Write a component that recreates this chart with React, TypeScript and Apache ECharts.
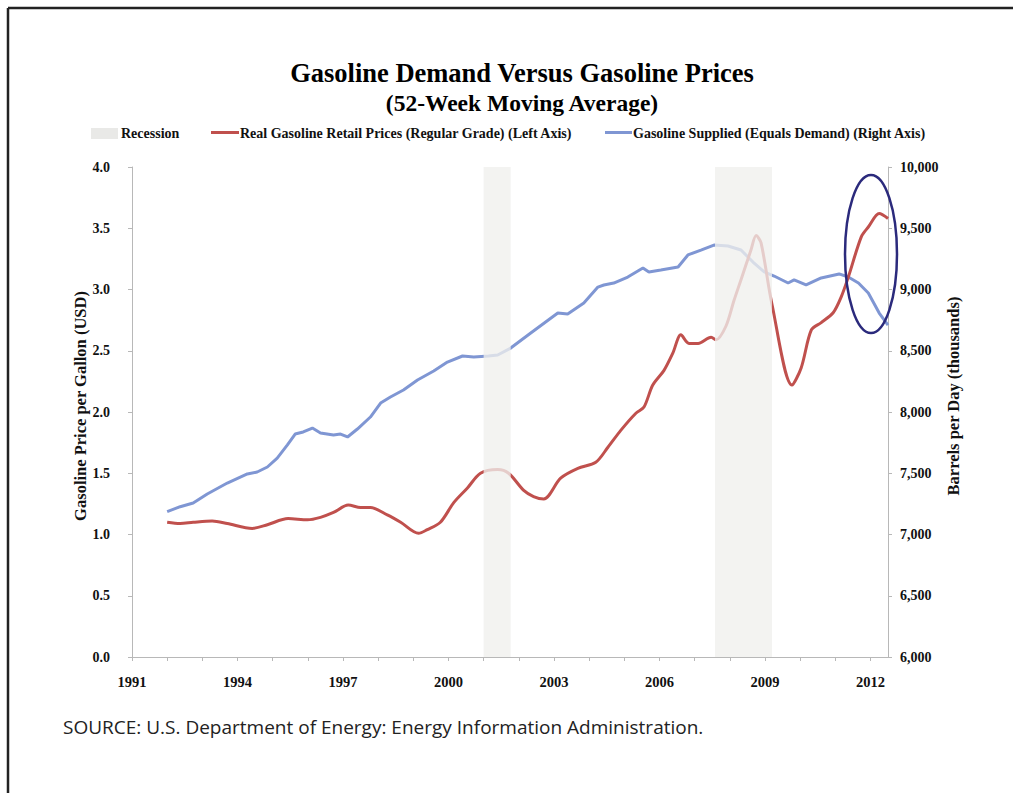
import React, { useEffect, useRef } from "react";
import * as echarts from "echarts";

const priceYears = [1992.0, 1992.37, 1992.74, 1993.28, 1993.71, 1994.42, 1994.85, 1995.44, 1995.99, 1996.36, 1996.73, 1997.15, 1997.5, 1997.78, 1998.26, 1998.64, 1999.15, 1999.4, 1999.77, 2000.15, 2000.54, 2000.91, 2001.4, 2001.71, 2002.14, 2002.42, 2002.71, 2003.19, 2003.68, 2004.19, 2004.53, 2004.9, 2005.33, 2005.56, 2005.81, 2006.13, 2006.38, 2006.61, 2006.84, 2007.1, 2007.47, 2007.61, 2007.89, 2008.12, 2008.32, 2008.6, 2008.75, 2008.89, 2009.2, 2009.77, 2010.03, 2010.32, 2010.6, 2010.94, 2011.17, 2011.37, 2011.74, 2011.94, 2012.25, 2012.5];
const priceValues = [1.10, 1.09, 1.10, 1.11, 1.09, 1.05, 1.08, 1.13, 1.12, 1.14, 1.18, 1.24, 1.22, 1.22, 1.16, 1.10, 1.01, 1.04, 1.10, 1.26, 1.38, 1.50, 1.53, 1.50, 1.36, 1.31, 1.29, 1.46, 1.54, 1.59, 1.71, 1.85, 1.99, 2.04, 2.22, 2.34, 2.48, 2.63, 2.56, 2.56, 2.61, 2.59, 2.70, 2.91, 3.08, 3.32, 3.44, 3.38, 2.88, 2.22, 2.36, 2.67, 2.73, 2.81, 2.94, 3.10, 3.43, 3.51, 3.62, 3.58];

const supplyYears = [1992.0, 1992.37, 1992.74, 1993.14, 1993.71, 1994.28, 1994.56, 1994.85, 1995.13, 1995.42, 1995.64, 1995.87, 1996.13, 1996.36, 1996.73, 1996.93, 1997.13, 1997.41, 1997.78, 1998.07, 1998.35, 1998.72, 1999.12, 1999.58, 1999.97, 2000.4, 2000.72, 2001.14, 2001.4, 2001.77, 2002.34, 2003.11, 2003.39, 2003.85, 2004.25, 2004.42, 2004.7, 2005.1, 2005.53, 2005.7, 2006.04, 2006.53, 2006.81, 2007.18, 2007.55, 2007.95, 2008.32, 2008.66, 2008.98, 2009.26, 2009.66, 2009.83, 2010.17, 2010.6, 2011.11, 2011.37, 2011.66, 2011.94, 2012.25, 2012.5];
const supplyValues = [7186, 7227, 7257, 7331, 7420, 7494, 7510, 7551, 7624, 7731, 7820, 7837, 7869, 7829, 7812, 7820, 7796, 7861, 7959, 8073, 8122, 8180, 8261, 8335, 8408, 8457, 8449, 8457, 8465, 8522, 8645, 8808, 8800, 8890, 9020, 9037, 9053, 9102, 9176, 9143, 9159, 9184, 9282, 9322, 9363, 9355, 9322, 9224, 9143, 9110, 9053, 9078, 9037, 9094, 9127, 9102, 9053, 8971, 8808, 8710];

const recessionStart = [2001.0, 2007.58];
const recessionEnd = [2001.77, 2009.2];

const titleText = "Gasoline Demand Versus Gasoline Prices";
const subtitleText = "(52-Week Moving Average)";
const legendLabels = [
  "Recession",
  "Real Gasoline Retail Prices (Regular Grade) (Left Axis)",
  "Gasoline Supplied (Equals Demand) (Right Axis)",
];
const leftAxisName = "Gasoline Price per Gallon (USD)";
const rightAxisName = "Barrels per Day (thousands)";
const sourceText = "SOURCE: U.S. Department of Energy: Energy Information Administration.";

const RED = "#c0504d";
const BLUE = "#7f96d3";
const REC = "rgba(240,240,237,0.78)";
const SERIF = "'Liberation Serif', 'Times New Roman', serif";

export default function App() {
  const ref = useRef<HTMLDivElement>(null);
  useEffect(() => {
    if (!ref.current) return;
    document.documentElement.style.overflow = "hidden";
    document.body.style.margin = "0";
    const chart = echarts.init(ref.current, null, { renderer: "svg" });
    const axisLine = { show: true, lineStyle: { color: "#b8b8b8", width: 1 } };
    const labelStyle = { fontFamily: SERIF, fontWeight: "bold" as const, fontSize: 14, color: "#111" };
    chart.setOption({
      animation: false,
      backgroundColor: "#fff",
      grid: { left: 132, right: 125, top: 167, bottom: 136, containLabel: false },
      xAxis: {
        type: "value",
        min: 1991,
        max: 2012.5,
        interval: 1,
        axisLine,
        axisTick: { show: true, length: 4, lineStyle: { color: "#b8b8b8" } },
        splitLine: { show: false },
        axisLabel: {
          ...labelStyle,
          fontSize: 14.5,
          margin: 17,
          showMinLabel: true,
          showMaxLabel: false,
          formatter: (v: number) => (Number.isInteger(v) && (v - 1991) % 3 === 0 ? String(v) : ""),
        },
      },
      yAxis: [
        {
          type: "value",
          min: 0,
          max: 4,
          interval: 0.5,
          position: "left",
          axisLine,
          axisTick: { show: true, length: 4, lineStyle: { color: "#b8b8b8" } },
          splitLine: { show: false },
          axisLabel: { ...labelStyle, margin: 22, formatter: (v: number) => v.toFixed(1) },
        },
        {
          type: "value",
          min: 6000,
          max: 10000,
          interval: 500,
          position: "right",
          axisLine,
          axisTick: { show: true, length: 4, lineStyle: { color: "#b8b8b8" } },
          splitLine: { show: false },
          axisLabel: { ...labelStyle, margin: 12, formatter: (v: number) => v.toLocaleString("en-US") },
        },
      ],
      series: [
        {
          type: "line",
          name: legendLabels[2],
          yAxisIndex: 1,
          data: supplyYears.map((y, i) => [y, supplyValues[i]]),
          symbol: "none",
          lineStyle: { color: BLUE, width: 3 },
          z: 2,
        },
        {
          type: "line",
          name: legendLabels[1],
          yAxisIndex: 0,
          data: priceYears.map((y, i) => [y, priceValues[i]]),
          symbol: "none",
          smooth: 0.3,
          lineStyle: { color: RED, width: 3 },
          z: 3,
        },
        {
          type: "custom",
          name: legendLabels[0],
          yAxisIndex: 0,
          z: 5,
          encode: { x: [0, 1] },
          data: recessionStart.map((s, i) => [s, recessionEnd[i]]),
          renderItem: (params: any, api: any) => {
            const p0 = api.coord([api.value(0), 0]);
            const p1 = api.coord([api.value(1), 0]);
            const cs = params.coordSys;
            return {
              type: "rect",
              shape: { x: p0[0], y: cs.y, width: p1[0] - p0[0], height: cs.height },
              style: { fill: REC },
            };
          },
        },
      ],
      graphic: [
        { type: "line", shape: { x1: 8, y1: 8, x2: 1013, y2: 8 }, style: { stroke: "#222", lineWidth: 2.5 }, z: 100 },
        { type: "line", shape: { x1: 8, y1: 8, x2: 8, y2: 793 }, style: { stroke: "#222", lineWidth: 2.5 }, z: 100 },
        {
          type: "text", x: 522, y: 73,
          style: { text: titleText, font: `bold 26.5px ${SERIF}`, fill: "#000", align: "center", verticalAlign: "middle" },
        },
        {
          type: "text", x: 522, y: 103,
          style: { text: subtitleText, font: `bold 23.5px ${SERIF}`, fill: "#000", align: "center", verticalAlign: "middle" },
        },
        { type: "rect", shape: { x: 91, y: 128, width: 27, height: 11 }, style: { fill: "#e9e9e7" } },
        {
          type: "text", x: 121, y: 133,
          style: { text: legendLabels[0], font: `bold 14px ${SERIF}`, fill: "#111", verticalAlign: "middle" },
        },
        { type: "line", shape: { x1: 211, y1: 132.5, x2: 239, y2: 132.5 }, style: { stroke: RED, lineWidth: 3 } },
        {
          type: "text", x: 240, y: 133,
          style: { text: legendLabels[1], font: `bold 14px ${SERIF}`, fill: "#111", verticalAlign: "middle" },
        },
        { type: "line", shape: { x1: 605, y1: 132.5, x2: 632, y2: 132.5 }, style: { stroke: BLUE, lineWidth: 3 } },
        {
          type: "text", x: 633, y: 133,
          style: { text: legendLabels[2], font: `bold 14px ${SERIF}`, fill: "#111", verticalAlign: "middle" },
        },
        {
          type: "text", x: 80, y: 406, rotation: Math.PI / 2,
          style: { text: leftAxisName, font: `bold 16.5px ${SERIF}`, fill: "#111", align: "center", verticalAlign: "middle" },
        },
        {
          type: "text", x: 953, y: 396, rotation: Math.PI / 2,
          style: { text: rightAxisName, font: `bold 16.5px ${SERIF}`, fill: "#111", align: "center", verticalAlign: "middle" },
        },
        {
          type: "ellipse", shape: { cx: 871, cy: 254, rx: 26, ry: 79 },
          style: { fill: "none", stroke: "#2b2a7c", lineWidth: 2.5 }, z: 50,
        },
        {
          type: "text", x: 63, y: 727,
          style: { text: sourceText, font: `19px 'Open Sans', 'Noto Sans', sans-serif`, fill: "#222", verticalAlign: "middle" },
        },
      ],
    });
    return () => chart.dispose();
  }, []);
  return <div ref={ref} style={{ position: "fixed", left: 0, top: 0, width: 1013, height: 793 }} />;
}
